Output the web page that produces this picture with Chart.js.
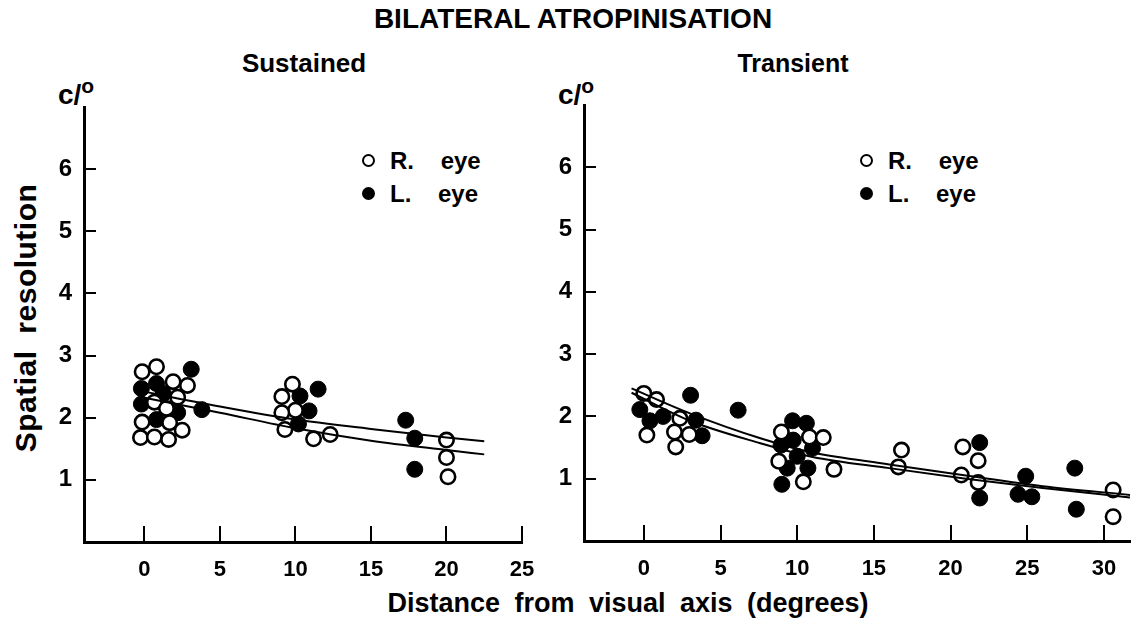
<!DOCTYPE html>
<html>
<head>
<meta charset="utf-8">
<script src="https://cdn.jsdelivr.net/npm/chart.js@4.4.0/dist/chart.umd.min.js"></script>
<style>
  html, body { margin:0; padding:0; background:#fff; }
  body { width:1141px; height:619px; position:relative; overflow:hidden;
         font-family:"Liberation Sans", Arial, Helvetica, sans-serif; font-weight:bold; color:#000; }
  .t { position:absolute; white-space:nowrap; transform:translate(-50%,-50%); line-height:1; }
  canvas { position:absolute; }
  .leg { position:absolute; white-space:nowrap; font-size:24px; line-height:1; }
  .dot { position:absolute; width:9px; height:9px; border-radius:50%; border:2px solid #000; box-sizing:content-box; }
</style>
</head>
<body>
<div class="t" style="left:573px; top:19px; font-size:28px;">BILATERAL ATROPINISATION</div>
<div class="t" style="left:304px; top:63px; font-size:26px;">Sustained</div>
<div class="t" style="left:793px; top:63px; font-size:25px;">Transient</div>
<div class="t" style="left:76px; top:92px; font-size:28px;">c/<sup style="font-size:21px; vertical-align:11px;">o</sup></div>
<div class="t" style="left:576px; top:92px; font-size:28px;">c/<sup style="font-size:21px; vertical-align:11px;">o</sup></div>
<div class="t" style="left:26px; top:318px; font-size:30px; letter-spacing:0.5px; transform:translate(-50%,-50%) rotate(-90deg); word-spacing:8px;">Spatial resolution</div>
<div class="t" style="left:628px; top:603px; font-size:27px; word-spacing:7px;">Distance from visual axis (degrees)</div>

<div class="dot" style="left:362px; top:154px; background:#fff;"></div>
<div class="leg" style="left:390px; top:149px;">R.&nbsp;&nbsp;&nbsp;&nbsp;eye</div>
<div class="dot" style="left:362px; top:187px; background:#000;"></div>
<div class="leg" style="left:390px; top:182px;">L.&nbsp;&nbsp;&nbsp;&nbsp;eye</div>
<div class="dot" style="left:860px; top:154px; background:#fff;"></div>
<div class="leg" style="left:888px; top:149px;">R.&nbsp;&nbsp;&nbsp;&nbsp;eye</div>
<div class="dot" style="left:860px; top:187px; background:#000;"></div>
<div class="leg" style="left:888px; top:182px;">L.&nbsp;&nbsp;&nbsp;&nbsp;eye</div>

<canvas id="c1" width="560" height="619" style="left:0; top:0; width:560px; height:619px;"></canvas>
<canvas id="c2" width="611" height="619" style="left:530px; top:0; width:611px; height:619px;"></canvas>

<script>
// ---------- data ----------
const yTickValues = [1, 2, 3, 4, 5, 6];
const xTicksSustained = [0, 5, 10, 15, 20, 25];
const xTicksTransient = [0, 5, 10, 15, 20, 25, 30];

// Sustained panel
const sustainedRX = [-0.15, 0.8, 1.9, 2.85, 0.66, 2.2, 1.46, -0.15, 1.67, 2.5, -0.26, 0.66, 1.6,
                     9.8, 9.1, 10.0, 9.1, 9.3, 11.2, 12.3, 20.0, 20.0, 20.1];
const sustainedRY = [2.74, 2.82, 2.58, 2.52, 2.25, 2.33, 2.15, 1.93, 1.92, 1.80, 1.68, 1.69, 1.65,
                     2.54, 2.34, 2.12, 2.08, 1.81, 1.66, 1.73, 1.64, 1.36, 1.05];
const sustainedLX = [3.1, -0.2, 0.8, 1.25, -0.2, 2.2, 0.8, 3.8,
                     11.5, 10.3, 10.9, 10.2, 17.3, 17.9, 17.9];
const sustainedLY = [2.78, 2.47, 2.55, 2.39, 2.22, 2.08, 1.97, 2.13,
                     2.46, 2.35, 2.11, 1.90, 1.96, 1.67, 1.17];
const sustainedFitX = [0, 5, 10, 15, 20, 22.5];
const sustainedFitUpper = [2.42, 2.18, 1.97, 1.82, 1.68, 1.62];
const sustainedFitLower = [2.32, 2.08, 1.83, 1.63, 1.48, 1.41];

// Transient panel
const transientRX = [0, 0.83, 0.2, 2.35, 2.0, 2.96, 2.08,
                     8.97, 10.8, 11.7, 8.8, 10.4, 12.4,
                     16.8, 16.6, 20.8, 20.7, 21.8, 21.8, 30.6, 30.6];
const transientRY = [2.37, 2.27, 1.70, 1.97, 1.75, 1.71, 1.51,
                     1.75, 1.67, 1.66, 1.28, 0.95, 1.15,
                     1.46, 1.19, 1.51, 1.06, 1.29, 0.94, 0.82, 0.39];
const transientLX = [3.05, -0.26, 0.4, 1.26, 3.4, 3.8, 6.15,
                     9.7, 10.6, 8.95, 9.74, 11.0, 10.0, 9.35, 10.7, 9.0,
                     21.9, 21.9, 24.9, 24.4, 25.3, 28.1, 28.2];
const transientLY = [2.34, 2.11, 1.93, 2.00, 1.94, 1.69, 2.10,
                     1.93, 1.89, 1.54, 1.62, 1.49, 1.36, 1.17, 1.17, 0.91,
                     1.58, 0.69, 1.04, 0.75, 0.71, 1.17, 0.51];
const transientFitX = [-0.8, 3, 7.6, 11, 16, 21, 26, 31.7];
const transientFitUpper = [2.45, 2.05, 1.65, 1.42, 1.23, 1.05, 0.88, 0.74];
const transientFitLower = [2.38, 1.93, 1.57, 1.35, 1.17, 1.00, 0.85, 0.70];

// ---------- helpers ----------
const zip = (xs, ys) => xs.map((x, i) => ({ x, y: ys[i] }));
const FONT = "'Liberation Sans', Arial, Helvetica, sans-serif";

const innerTicks = {
  id: 'innerTicks',
  afterDraw(chart) {
    const { ctx, chartArea } = chart;
    const xs = chart.scales.x, ys = chart.scales.y;
    ctx.save();
    ctx.strokeStyle = '#000';
    ctx.lineWidth = 2;
    xs.ticks.forEach(t => {
      const px = Math.round(xs.getPixelForValue(t.value));
      ctx.beginPath(); ctx.moveTo(px, chartArea.bottom); ctx.lineTo(px, chartArea.bottom - 16); ctx.stroke();
    });
    ys.ticks.forEach(t => {
      const py = Math.round(ys.getPixelForValue(t.value));
      ctx.beginPath(); ctx.moveTo(chartArea.left, py); ctx.lineTo(chartArea.left + 12, py); ctx.stroke();
    });
    ctx.restore();
  }
};

function makeChart(id, cfg) {
  const datasets = [
    { data: zip(cfg.fitX, cfg.fitUpper), showLine: true, borderColor: '#000', borderWidth: 2,
      pointRadius: 0, cubicInterpolationMode: 'monotone', fill: false, clip: false },
    { data: zip(cfg.fitX, cfg.fitLower), showLine: true, borderColor: '#000', borderWidth: 2,
      pointRadius: 0, cubicInterpolationMode: 'monotone', fill: false, clip: false },
    { data: zip(cfg.rx, cfg.ry), showLine: false, pointRadius: 7.2, pointBorderWidth: 2.6,
      pointBackgroundColor: '#fff', pointBorderColor: '#000', clip: false },
    { data: zip(cfg.lx, cfg.ly), showLine: false, pointRadius: 8, pointBorderWidth: 1,
      pointBackgroundColor: '#000', pointBorderColor: '#000', clip: false }
  ];
  return new Chart(document.getElementById(id), {
    type: 'scatter',
    data: { datasets },
    plugins: [innerTicks],
    options: {
      responsive: false,
      animation: false,
      events: [],
      layout: { padding: cfg.padding },
      plugins: { legend: { display: false }, tooltip: { enabled: false }, title: { display: false } },
      scales: {
        x: {
          type: 'linear', min: cfg.xMin, max: cfg.xMax,
          afterBuildTicks: s => { s.ticks = cfg.xTicks.map(v => ({ value: v })); },
          afterFit: s => { s.height = cfg.xHeight; },
          grid: { display: false, drawTicks: false },
          border: { display: true, color: '#000', width: 3 },
          ticks: { color: '#000', padding: 15, maxRotation: 0, autoSkip: false,
                   font: { family: FONT, weight: 'bold', size: 22 } }
        },
        y: {
          type: 'linear', min: 0, max: 7,
          afterBuildTicks: s => { s.ticks = yTickValues.map(v => ({ value: v })); },
          afterFit: s => { s.width = cfg.yWidth; },
          grid: { display: false, drawTicks: false },
          border: { display: true, color: '#000', width: 3 },
          ticks: { color: '#000', padding: 12, autoSkip: false,
                   font: { family: FONT, weight: 'bold', size: 24 } }
        }
      }
    }
  });
}

makeChart('c1', {
  rx: sustainedRX, ry: sustainedRY, lx: sustainedLX, ly: sustainedLY,
  fitX: sustainedFitX, fitUpper: sustainedFitUpper, fitLower: sustainedFitLower,
  xMin: -4, xMax: 25, xTicks: xTicksSustained,
  padding: { left: 0, top: 107, right: 38, bottom: 0 }, xHeight: 77, yWidth: 84
});
makeChart('c2', {
  rx: transientRX, ry: transientRY, lx: transientLX, ly: transientLY,
  fitX: transientFitX, fitUpper: transientFitUpper, fitLower: transientFitLower,
  xMin: -3.9, xMax: 31.7, xTicks: xTicksTransient,
  padding: { left: 0, top: 105, right: 11, bottom: 0 }, xHeight: 78, yWidth: 54
});
</script>
</body>
</html>
